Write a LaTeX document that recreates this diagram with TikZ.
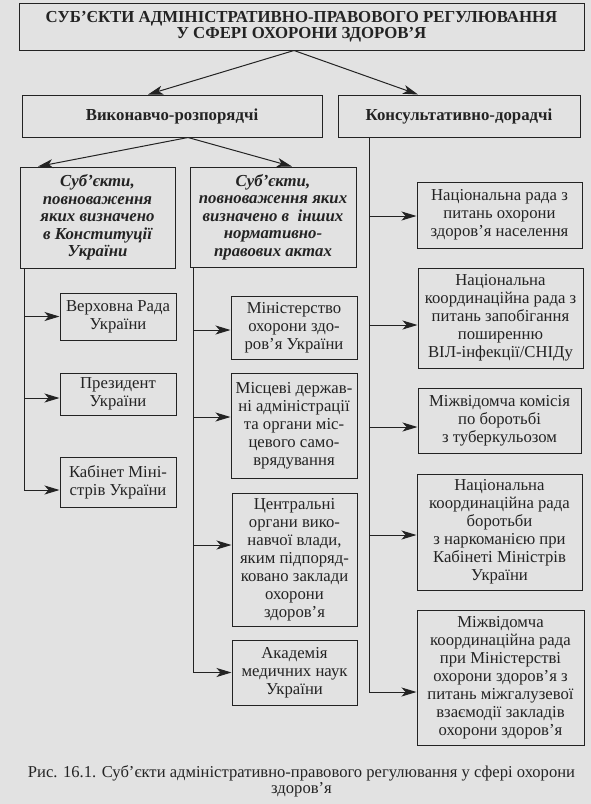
\documentclass[tikz,border=0pt]{standalone}
\usepackage{fontspec}
\setmainfont{Liberation Serif}
\usetikzlibrary{arrows.meta}
\definecolor{paper}{RGB}{226,226,226}
\definecolor{ink}{RGB}{35,35,35}
\begin{document}
\begin{tikzpicture}[x=1pt,y=-1pt]
        		\tikzstyle{box}=[draw=ink,line width=1pt,fill=paper,align=center,inner sep=1pt,text=ink,font=\fontsize{16.7}{18}\selectfont]
        		\tikzstyle{head}=[box,font=\bfseries\fontsize{16.8}{16.5}\selectfont]
        		\tikzstyle{subj}=[box,font=\bfseries\itshape\fontsize{16.8}{17.5}\selectfont]
        		\tikzstyle{edge}=[draw=ink, line width=1pt, -{Stealth[length=15pt,width=9pt,inset=4pt]}]
        		\fill[paper] (0,0) rectangle (591,804);
        		\useasboundingbox (0,0) rectangle (591,804);
       			\begin{scope}
			        \node [head,minimum width=565pt,minimum height=47pt] (title) at (301.5,26.5) {СУБ’ЄКТИ АДМІНІСТРАТИВНО-ПРАВОВОГО РЕГУЛЮВАННЯ\\У СФЕРІ ОХОРОНИ ЗДОРОВ’Я};
			        \node [head,minimum width=300pt,minimum height=42pt] (vykon) at (172,116) {Виконавчо-розпорядчі};
			        \node [head,minimum width=242pt,minimum height=42pt] (konsult) at (459,116) {Консультативно-дорадчі};
			        \node [subj,minimum width=155pt,minimum height=101pt] (konst) at (97.5,217.5) {Суб’єкти,\\повноваження\\яких визначено\\в Конституції\\України};
			        \node [subj,minimum width=166pt,minimum height=100pt] (inshi) at (273,217) {Суб’єкти,\\повноваження яких\\визначено в \ інших\\нормативно-\\правових актах};
			        \node [box,minimum width=116pt,minimum height=47pt] (verkh) at (118,316.5) {Верховна Рада\\України};
			        \node [box,minimum width=116pt,minimum height=42pt] (prez) at (118,394) {Президент\\України};
			        \node [box,minimum width=116pt,minimum height=50pt] (kabmin) at (118,482) {Кабінет Міні-\\стрів України};
			        \node [box,minimum width=126pt,minimum height=63pt] (minzdrav) at (294,327.5) {Міністерство\\охорони здо-\\ров’я України};
			        \node [box,minimum width=126pt,minimum height=105pt] (mistsevi) at (294,425.5) {Місцеві держав-\\ні адміністрації\\та органи міс-\\цевого само-\\врядування};
			        \node [box,minimum width=125pt,minimum height=133pt] (tsentr) at (294.5,559.5) {Центральні\\органи вико-\\навчої влади,\\яким підпоряд-\\ковано заклади\\охорони\\здоров’я};
			        \node [box,minimum width=125pt,minimum height=65pt] (amn) at (294.5,672.5) {Академія\\медичних наук\\України};
			        \node [box,minimum width=165pt,minimum height=66pt] (narada) at (499.5,215) {Національна рада з\\питань охорони\\здоров’я населення};
			        \node [box,minimum width=165pt,minimum height=100pt] (vil) at (500.5,318) {Національна\\координаційна рада з\\питань запобігання\\поширенню\\ВІЛ-інфекції/СНІДу};
			        \node [box,minimum width=163pt,minimum height=65pt] (tub) at (499.5,420.5) {Міжвідомча комісія\\по боротьбі\\з туберкульозом};
			        \node [box,minimum width=165pt,minimum height=116pt] (narko) at (499.5,532) {Національна\\координаційна рада\\боротьби\\з наркоманією при\\Кабінеті Міністрів\\України};
			        \node [box,minimum width=167pt,minimum height=135pt] (mizhv) at (500.5,677.5) {Міжвідомча\\координаційна рада\\при Міністерстві\\охорони здоров’я з\\питань міжгалузевої\\взаємодії закладів\\охорони здоров’я};
			        \node [align=center,text=ink,font=\fontsize{16.6}{16}\selectfont] (caption) at (301.5,781) {Рис. 16.1. Суб’єкти адміністративно-правового регулювання у сфері охорони\\здоров’я};
			        \path[edge] ([xshift=-7.5pt]title.south) -- ([xshift=-24pt]vykon.north);
			        \path[edge] ([xshift=-7.5pt]title.south) -- ([xshift=-41pt]konsult.north);
			        \path[edge] ([xshift=16pt]vykon.south) -- ([xshift=-59.5pt]konst.north);
			        \path[edge] ([xshift=16pt]vykon.south) -- ([xshift=19pt]inshi.north);
			        \path[edge] ([xshift=5pt]konst.south west) |- (verkh.west);
			        \path[edge] ([xshift=5pt]konst.south west) |- ([yshift=-4pt]prez.west);
			        \path[edge] ([xshift=5pt]konst.south west) |- ([yshift=-8pt]kabmin.west);
			        \path[edge] ([xshift=4pt]inshi.south west) |- ([yshift=-2.5pt]minzdrav.west);
			        \path[edge] ([xshift=4pt]inshi.south west) |- ([yshift=8.5pt]mistsevi.west);
			        \path[edge] ([xshift=4pt]inshi.south west) |- ([yshift=14.5pt]tsentr.west);
			        \path[edge] ([xshift=4pt]inshi.south west) |- (amn.west);
			        \path[edge] ([xshift=32pt]konsult.south west) |- ([yshift=-1pt]narada.west);
			        \path[edge] ([xshift=32pt]konsult.south west) |- ([yshift=-7pt]vil.west);
			        \path[edge] ([xshift=32pt]konsult.south west) |- ([yshift=-6.5pt]tub.west);
			        \path[edge] ([xshift=32pt]konsult.south west) |- ([yshift=-3pt]narko.west);
			        \path[edge] ([xshift=32pt]konsult.south west) |- ([yshift=-14.5pt]mizhv.west);
		        \end{scope}
	        \end{tikzpicture}
\end{document}
